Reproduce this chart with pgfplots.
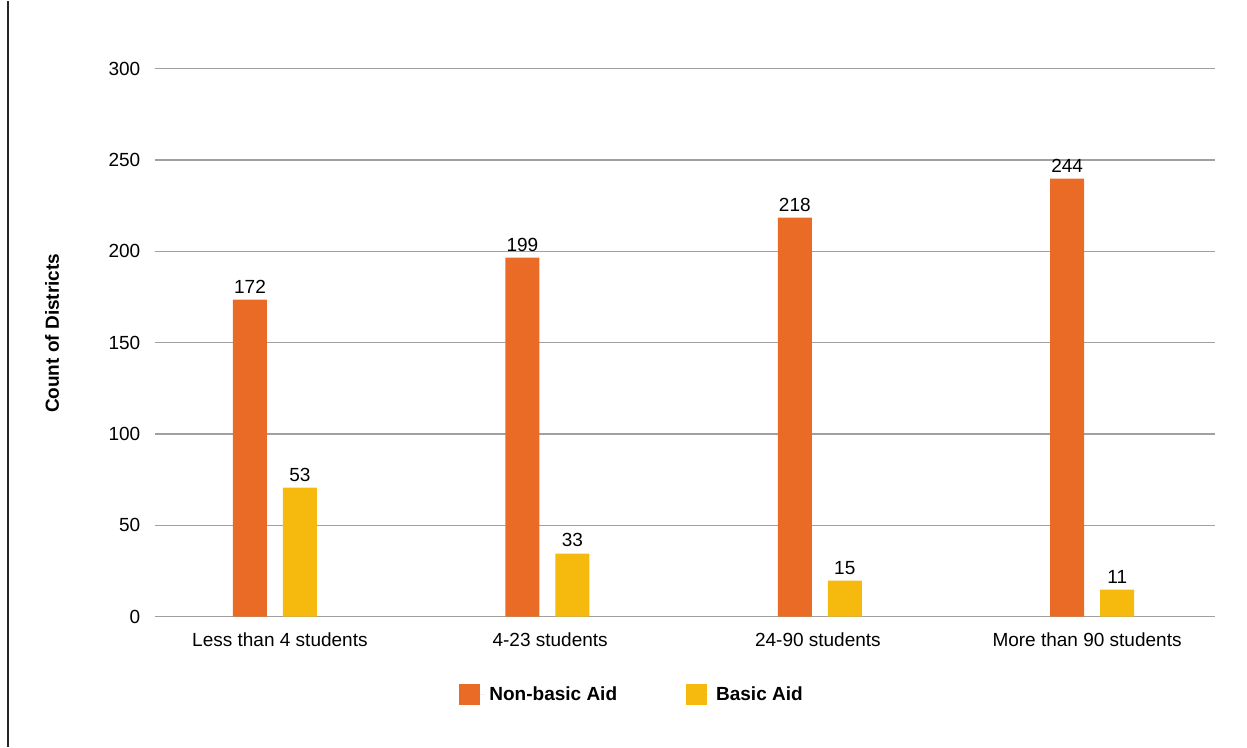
\documentclass[border=0pt]{standalone}
\usepackage{fontspec}
\setmainfont{Liberation Sans}
\usepackage{pgfplots}
\usepackage{pgfplotstable}
\pgfplotsset{compat=1.18}
\definecolor{cOrange}{RGB}{234,107,38}
\definecolor{cYellow}{RGB}{246,185,14}
\definecolor{cGrid}{RGB}{160,160,160}
\pgfplotstableread{
x y lab
0 173.5 172
1 196.5 199
2 218.4 218
3 239.7 244
}\nonbasic
\pgfplotstableread{
x y lab
0 70.6 53
1 34.5 33
2 19.7 15
3 14.8 11
}\basic
\begin{document}
\fontsize{9.5}{11}\selectfont
\begin{tikzpicture}
\begin{axis}[
  scale only axis,
  width=530pt, height=274pt,
  xmin=-0.4405, xmax=3.4508,
  ymin=0, ymax=300,
  ytick={0,50,...,300},
  xtick={0.018,1.01,1.993,2.981},
  xticklabels={Less than 4 students,4-23 students,24-90 students,More than 90 students},
  axis line style={draw=none},
  tick style={draw=none},
  ymajorgrids,
  grid style={cGrid, line width=0.6pt},
  /pgf/number format/assume math mode=true,
  tick label style={font=\fontsize{9.5}{11}\selectfont},
  yticklabel style={xshift=-4pt},
  xticklabel style={yshift=-4.5pt},
  ylabel={\textbf{Count of Districts}},
  ylabel style={at={(axis description cs:-0.0972,0.517)}, anchor=center, font=\fontsize{9.5}{11}\selectfont},
  legend columns=2,
  legend style={draw=none, at={(axis description cs:0.2868,-0.1423)}, anchor=west, inner sep=0pt,
    font=\fontsize{9.5}{11}\selectfont\bfseries,
    /tikz/every even column/.style={column sep=32.5pt},
    cells={anchor=west}},
  legend image code/.code={\fill[#1] (0pt,-5.2pt) rectangle (10.4pt,5.2pt); \path (0pt,0pt) -- (13pt,0pt);},
  nodes near coords,
  point meta=explicit symbolic,
  every node near coord/.append style={font=\fontsize{9.5}{11}\selectfont, inner sep=0pt, yshift=3pt, anchor=south, text=black},
]
\addplot[ybar, bar width=17pt, bar shift=-12.5pt, fill=cOrange, draw=none,
  every node near coord/.append style={xshift=-12.5pt}] table[x=x, y=y, meta=lab] {\nonbasic};
\addlegendentry{Non-basic Aid}
\addplot[ybar, bar width=17pt, bar shift=12.5pt, fill=cYellow, draw=none,
  every node near coord/.append style={xshift=12.5pt}] table[x=x, y=y, meta=lab] {\basic};
\addlegendentry{Basic Aid}
\end{axis}
\draw[black!85, line width=0.6pt] (-73.5pt,-65pt) -- (-73.5pt,308pt);
\useasboundingbox (-77.5pt,-65pt) rectangle (546pt,308pt);
\end{tikzpicture}
\end{document}
